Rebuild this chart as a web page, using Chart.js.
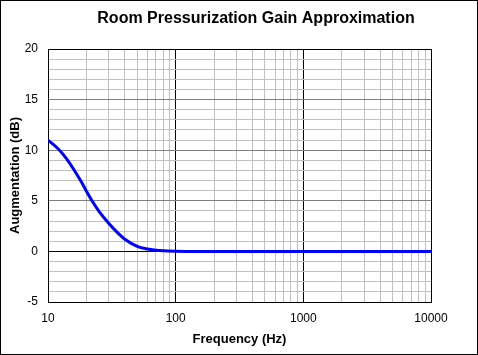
<!DOCTYPE html>
<html>
<head>
<meta charset="utf-8">
<script src="https://cdn.jsdelivr.net/npm/chart.js@4.4.1/dist/chart.umd.min.js"></script>
<style>
  html, body { margin: 0; padding: 0; background: #fff; }
  canvas { display: block; }
</style>
</head>
<body>
<canvas id="c" width="478" height="355"></canvas>
<script>
// ---- data ----
const chartTitle = 'Room Pressurization Gain Approximation';
const xTitle = 'Frequency (Hz)';
const yTitle = 'Augmentation (dB)';
const frequencies = [10, 12, 14, 16, 18, 20, 22.5, 25, 30, 35, 40, 50, 60, 70, 80, 100, 150, 200, 500, 1000, 10000];
const gainDb      = [11.0, 10.15, 9.15, 8.05, 7.0, 5.95, 4.85, 3.98, 2.75, 1.85, 1.2, 0.5, 0.24, 0.12, 0.06, 0.02, 0, 0, 0, 0, 0];
const xGridValues = [10,20,30,40,50,60,70,80,90,100,200,300,400,500,600,700,800,900,1000,2000,3000,4000,5000,6000,7000,8000,9000,10000];
const xTickLabels = [10, 100, 1000, 10000];
const yTickLabels = [-5, 0, 5, 10, 15, 20];

const FONT = '"Liberation Sans", Arial, sans-serif';

const framePlugin = {
  id: 'frame',
  afterDraw(chart) {
    const ctx = chart.ctx;
    ctx.save();
    ctx.strokeStyle = '#000';
    ctx.lineWidth = 1;
    ctx.strokeRect(0.5, 0.5, chart.width - 1, chart.height - 1);
    ctx.fillStyle = '#000';
    ctx.font = 'bold 16px ' + FONT;
    ctx.textAlign = 'center';
    ctx.textBaseline = 'alphabetic';
    ctx.fillText(chartTitle, 256, 23);
    ctx.restore();
  }
};

new Chart(document.getElementById('c'), {
  type: 'line',
  data: {
    datasets: [{
      data: frequencies.map((f, i) => ({ x: f, y: gainDb[i] })),
      borderColor: '#0000ff',
      borderWidth: 3,
      pointRadius: 0,
      fill: false,
      cubicInterpolationMode: 'monotone'
    }]
  },
  options: {
    responsive: false,
    animation: false,
    devicePixelRatio: 1,
    layout: { padding: { left: 0, right: 47, top: 49, bottom: 0 } },
    plugins: { legend: { display: false }, tooltip: { enabled: false }, title: { display: false } },
    scales: {
      x: {
        type: 'logarithmic',
        min: 10, max: 10000,
        afterBuildTicks: s => { s.ticks = xGridValues.map(v => ({ value: v })); },
        afterFit: s => { s.height = 53; },
        ticks: {
          autoSkip: false, maxRotation: 0, padding: 9,
          color: '#000', font: { family: FONT, size: 12 },
          callback: v => xTickLabels.includes(v) ? String(v) : ''
        },
        grid: {
          drawTicks: false,
          color: c => xTickLabels.includes(c.tick && c.tick.value) ? '#000' : '#c0c0c0',
          lineWidth: 1
        },
        border: { color: '#000', width: 1 },
        title: { display: true, text: xTitle, color: '#000', font: { family: FONT, size: 13, weight: 'bold' }, padding: { top: 0, bottom: 8 } }
      },
      y: {
        min: -5, max: 20,
        ticks: {
          stepSize: 1, autoSkip: false, padding: 10,
          color: '#000', font: { family: FONT, size: 12 },
          callback: v => yTickLabels.includes(v) ? String(v) : ''
        },
        afterFit: s => { s.width = 48; },
        grid: {
          drawTicks: false,
          color: c => {
            const v = c.tick && c.tick.value;
            if (v === 0 || v === 20 || v === -5) return '#000';
            if (yTickLabels.includes(v)) return '#808080';
            return '#c0c0c0';
          },
          lineWidth: 1
        },
        border: { color: '#000', width: 1 },
        title: { display: true, text: yTitle, color: '#000', font: { family: FONT, size: 13, weight: 'bold' }, padding: { top: 8, bottom: 0 } }
      }
    }
  },
  plugins: [framePlugin]
});
</script>
</body>
</html>
